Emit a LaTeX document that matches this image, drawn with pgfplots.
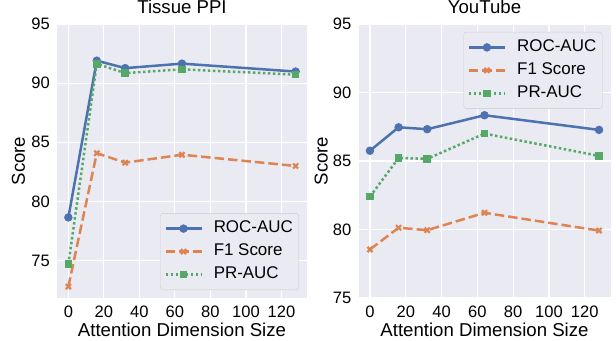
\documentclass[border=0pt]{standalone}
\usepackage{pgfplots}
\pgfplotsset{compat=1.18}
\usepackage{fontspec}
\setmainfont{Liberation Sans}
\definecolor{sbblue}{HTML}{4C72B0}
\definecolor{sborange}{HTML}{DD8452}
\definecolor{sbgreen}{HTML}{55A868}
\definecolor{sbbg}{HTML}{EAEAF2}
\definecolor{legedge}{HTML}{CCCCCC}
\pgfplotsset{
 sbstyle/.style={
  scale only axis, height=274bp,
  axis background/.style={fill=sbbg},
  axis line style={draw=none},
  major tick length=0pt,
  grid=major, grid style={white, line width=1.2bp},
  xmin=-6.4, xmax=134.4, xtick={0,20,...,120},
  ytick={75,80,85,90,95},
  ymax=95,
  /pgf/number format/assume math mode=true,
  tick label style={font=\fontsize{16.6}{19}\selectfont},
  xticklabel style={anchor=base, inner sep=0pt, yshift=-19.5bp},
  yticklabel style={anchor=east, inner sep=0pt, xshift=-7bp},
  label style={font=\fontsize{18.7}{21}\selectfont},
  xlabel={Attention Dimension Size},
  ylabel={Score},
  xlabel style={at={(axis description cs:0.5,-0.1387)}, anchor=base},
  title style={font=\fontsize{18.7}{21}\selectfont, at={(axis description cs:0.5,1.0164)}, anchor=base},
  legend cell align=left,
  legend image code/.code={\draw[mark repeat=2,mark phase=2,##1] plot coordinates {(0bp,0bp) (18bp,0bp) (36bp,0bp)};},
  legend style={font=\fontsize{17}{20}\selectfont, fill=sbbg, draw=legedge, rounded corners=3bp,
    inner xsep=4bp, inner ysep=5.5bp, row sep=3.5bp,
    nodes={inner sep=2bp, text height=12bp, text depth=3.5bp},
    /tikz/every odd column/.append style={column sep=9bp}},
 },
 roc/.style={sbblue, line width=2.5bp, mark=*, mark size=3.7bp, mark options={solid, fill=sbblue, draw=sbblue, line width=1bp}},
 fone/.style={sborange, line width=2.5bp, dash pattern=on 9.5bp off 4bp, mark=x, mark size=3.6bp, mark options={solid, line width=2.2bp}},
 pr/.style={sbgreen, line width=2.5bp, dash pattern=on 2.5bp off 2.5bp, mark=square*, mark size=3.3bp, mark options={solid, fill=sbgreen, line width=1bp}},
}
\begin{document}
\begin{tikzpicture}
\path[use as bounding box] (-57bp,-43bp) rectangle (559bp,298bp);
\begin{axis}[sbstyle, at={(0bp,0bp)}, anchor=south west, width=250bp,
  ymin=71.84, title={Tissue PPI},
  ylabel style={at={(axis description cs:-0.128,0.5)}, anchor=base},
  legend style={at={(axis description cs:0.968,0.029)}, anchor=south east}]
\addplot[roc] coordinates {(0,78.65) (16,91.9) (32,91.27) (64,91.65) (128,90.98)};
\addlegendentry{ROC-AUC}
\addplot[fone] coordinates {(0,72.8) (16,84.08) (32,83.28) (64,83.95) (128,83.0)};
\addlegendentry{F1 Score}
\addplot[pr] coordinates {(0,74.7) (16,91.63) (32,90.85) (64,91.17) (128,90.72)};
\addlegendentry{PR-AUC}
\end{axis}
\begin{axis}[sbstyle, at={(301.5bp,0bp)}, anchor=south west, width=252bp,
  ymin=75, title={YouTube},
  ylabel style={at={(axis description cs:-0.123,0.5)}, anchor=base},
  legend style={at={(axis description cs:0.968,0.971)}, anchor=north east}]
\addplot[roc] coordinates {(0,85.75) (16,87.46) (32,87.32) (64,88.34) (128,87.27)};
\addlegendentry{ROC-AUC}
\addplot[fone] coordinates {(0,78.54) (16,80.13) (32,79.95) (64,81.22) (128,79.92)};
\addlegendentry{F1 Score}
\addplot[pr] coordinates {(0,82.4) (16,85.22) (32,85.16) (64,87.0) (128,85.37)};
\addlegendentry{PR-AUC}
\end{axis}
\end{tikzpicture}
\end{document}
